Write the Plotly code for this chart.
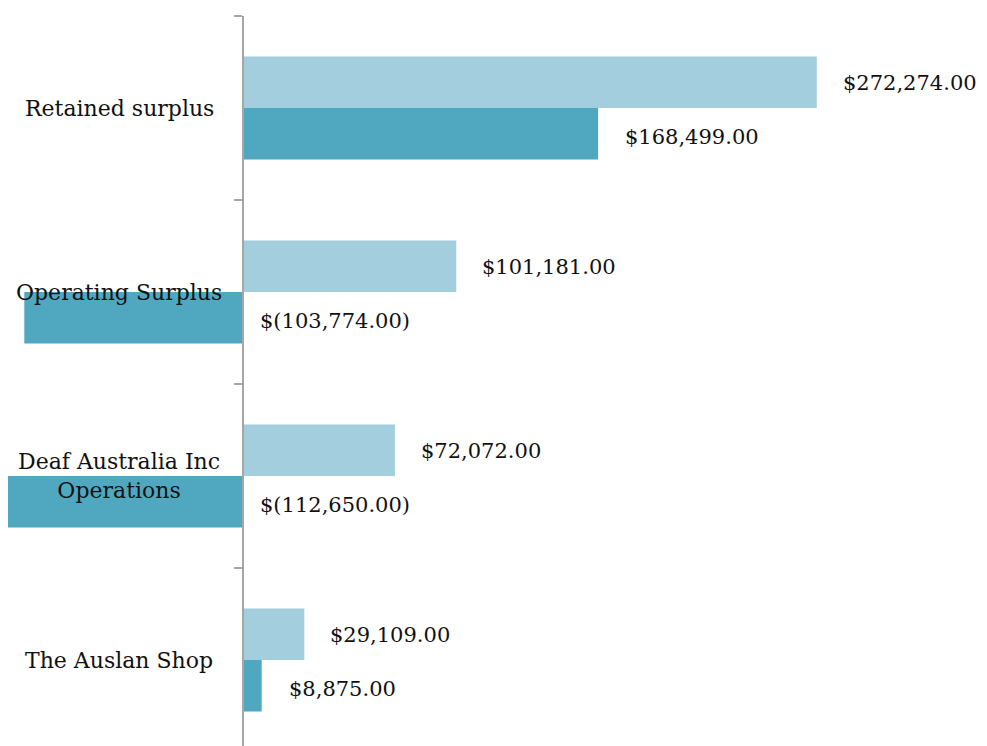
import plotly.graph_objects as go

# Categories listed bottom-to-top (as they appear on the vertical axis)
categories = ["The Auslan Shop", "Deaf Australia Inc<br>Operations", "Operating Surplus", "Retained surplus"]
series_light = [29109.00, 72072.00, 101181.00, 272274.00]
series_dark = [8875.00, -112650.00, -103774.00, 168499.00]

LIGHT = "#A2CEDD"
DARK = "#50A8C0"
FONT = "DejaVu Serif"
FS_CAT = 22
FS_VAL = 21


def money(v):
    if v < 0:
        return "$({:,.2f})".format(-v)
    return "${:,.2f}".format(v)


# page body has an 8px margin, so the figure is drawn 8px smaller
W, H = 979, 738
zero_px = 235
px_per_unit = 0.0021075
x_range = [-zero_px / px_per_unit, (W - zero_px) / px_per_unit]

fig = go.Figure()
fig.add_trace(go.Bar(y=categories, x=series_dark, orientation="h",
                     marker=dict(color=DARK, line=dict(width=0)), name="dark"))
fig.add_trace(go.Bar(y=categories, x=series_light, orientation="h",
                     marker=dict(color=LIGHT, line=dict(width=0)), name="light"))

annotations = []
# category labels
for i, c in enumerate(categories):
    annotations.append(dict(x=111 / W, xref="paper", y=i, yref="y", text=c,
                            showarrow=False, xanchor="center", yanchor="middle",
                            align="center", font=dict(family=FONT, size=FS_CAT, color="#111111")))
# value labels
for i, (vl, vd) in enumerate(zip(series_light, series_dark)):
    annotations.append(dict(x=vl, y=i, xref="x", yref="y", text=money(vl), showarrow=False,
                            xanchor="left", yanchor="middle", xshift=24, yshift=25,
                            font=dict(family=FONT, size=FS_VAL, color="#111111")))
    annotations.append(dict(x=max(vd, 0), y=i, xref="x", yref="y", text=money(vd), showarrow=False,
                            xanchor="left", yanchor="middle", xshift=25 if vd >= 0 else 15,
                            yshift=-29,
                            font=dict(family=FONT, size=FS_VAL, color="#111111")))

fig.update_layout(
    width=W, height=H,
    margin=dict(l=0, r=0, t=8, b=0),
    paper_bgcolor="white", plot_bgcolor="white",
    barmode="group", bargap=0.44, bargroupgap=0,
    showlegend=False,
    annotations=annotations,
    xaxis=dict(range=x_range, showgrid=False, zeroline=False, showticklabels=False,
               showline=False, ticks=""),
    yaxis=dict(type="category", categoryorder="array", categoryarray=categories,
               range=[-0.467, 3.5], anchor="free", position=zero_px / W,
               showgrid=False, zeroline=False, showticklabels=False,
               showline=True, linecolor="#A6A6A6", linewidth=2,
               ticks="outside", ticklen=8, tickcolor="#A6A6A6", tickwidth=2,
               tickson="boundaries"),
)

fig.write_html("out.html")
